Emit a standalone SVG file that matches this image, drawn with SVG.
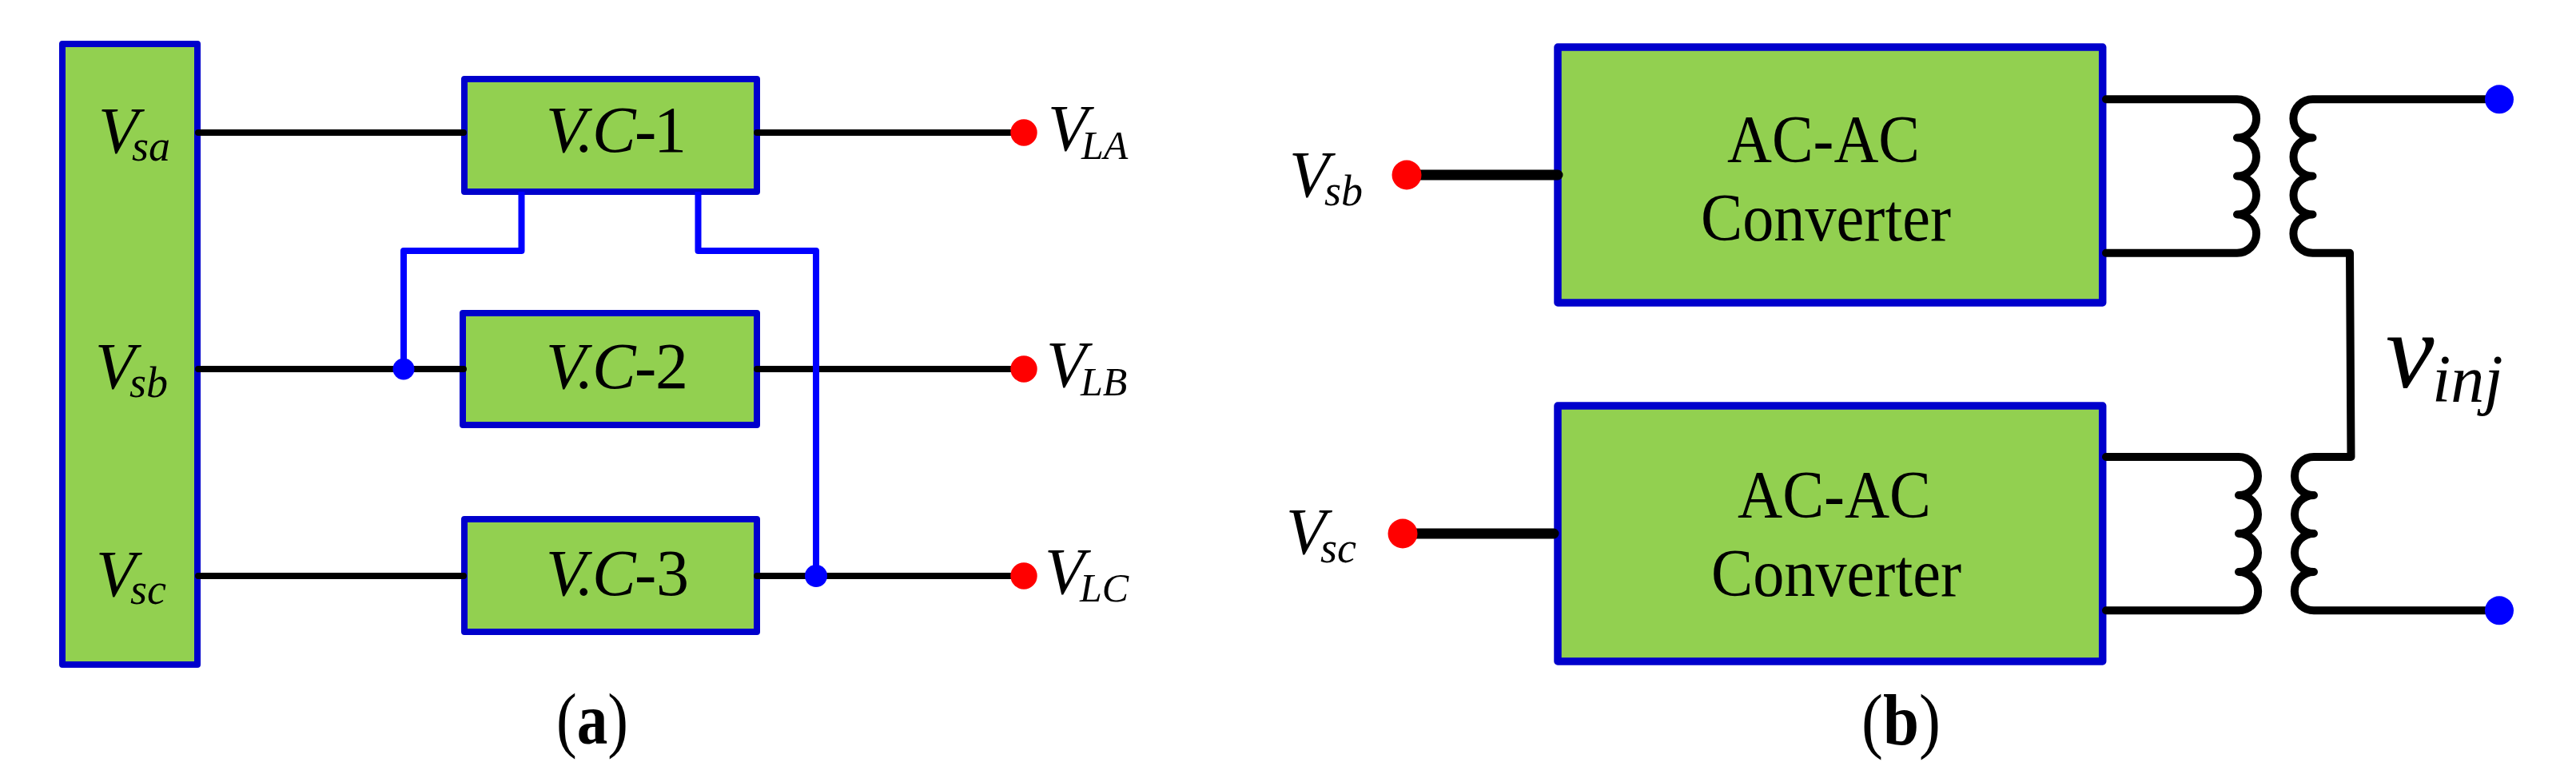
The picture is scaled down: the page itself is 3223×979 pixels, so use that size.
<svg xmlns="http://www.w3.org/2000/svg" width="3223" height="979" viewBox="0 0 3223 979">
<style>
text{font-family:"Liberation Serif","Times New Roman",serif;fill:#000}
.i{font-style:italic}
.main{font-size:82px}
.tall{font-size:84px}
.sub{font-size:54px;font-style:italic}
.subl{font-size:50px;font-style:italic}
.cap{font-size:92px}
.b{font-weight:bold}
.box{fill:#92D050;stroke:#0000CC;stroke-linejoin:round}
.a{stroke-width:8}
.c{stroke-width:9.5}
.k{fill:none;stroke:#000;stroke-linecap:round;stroke-linejoin:round}
.k8{stroke-width:8}
.k10{stroke-width:10}
.k13{stroke-width:13}
.bl{fill:none;stroke:#0000FF;stroke-width:8;stroke-linejoin:round}
.red{fill:#FF0000}
.dot{fill:#0000FF}
</style>
<rect width="3223" height="979" fill="#fff"/>
<g id="source-block">
<rect class="box a" x="78" y="55" width="169" height="777"/>
<text class="main i" x="123" y="191">V</text><text class="sub" x="165" y="201">sa</text>
<text class="main i" x="119" y="486">V</text><text class="sub" x="162" y="497">sb</text>
<text class="main i" x="120" y="746">V</text><text class="sub" x="163" y="756">sc</text>
</g>
<g id="vc1">
<rect class="box a" x="581" y="99" width="366" height="141"/>
<text class="main" y="190"><tspan class="i" x="683">V</tspan><tspan class="i" x="722">.</tspan><tspan class="i" x="741">C</tspan><tspan x="794">-</tspan><tspan x="818">1</tspan></text>
</g>
<g id="vc2">
<rect class="box a" x="579" y="392" width="368" height="140"/>
<text class="main" y="486"><tspan class="i" x="683">V</tspan><tspan class="i" x="722">.</tspan><tspan class="i" x="741">C</tspan><tspan x="794">-</tspan><tspan x="820">2</tspan></text>
</g>
<g id="vc3">
<rect class="box a" x="581" y="650" width="366" height="141"/>
<text class="main" y="745"><tspan class="i" x="683">V</tspan><tspan class="i" x="722">.</tspan><tspan class="i" x="741">C</tspan><tspan x="794">-</tspan><tspan x="821">3</tspan></text>
</g>
<g id="converter-top">
<rect class="box c" x="1949" y="59" width="681.7" height="320"/>
<text class="tall" x="2161" y="203" textLength="241" lengthAdjust="spacingAndGlyphs">AC-AC</text>
<text class="tall" x="2128" y="301" textLength="313" lengthAdjust="spacingAndGlyphs">Converter</text>
</g>
<g id="converter-bottom">
<rect class="box c" x="1949" y="508" width="681.7" height="320"/>
<text class="tall" x="2174" y="648" textLength="242" lengthAdjust="spacingAndGlyphs">AC-AC</text>
<text class="tall" x="2141" y="746" textLength="313" lengthAdjust="spacingAndGlyphs">Converter</text>
</g>
<g id="connectors">
<path class="k k8" d="M248 166H580M947 166H1280M248 462H580M947 462H1280M248 721H580M947 721H1280"/>
<path class="bl" d="M652.500 240V314H505V462M873.500 240V314H1021V721"/>
<path class="k k13" d="M1760 219H1949M1755 668H1944"/>
<path class="k k10" d="M2635 124.300H2799A24 24 0 0 1 2799 172.500A24 24 0 0 1 2799 220.500A24 24 0 0 1 2799 268.500A24 24 0 0 1 2799 316.700H2635"/>
<path class="k k10" d="M3127 124.300H2893.500A24 24 0 0 0 2893.500 172.500A24 24 0 0 0 2893.500 220.500A24 24 0 0 0 2893.500 268.500A24 24 0 0 0 2893.500 316.700H2940L2941.500 572H2895A24 24 0 0 0 2895 620A24 24 0 0 0 2895 668A24 24 0 0 0 2895 716A24 24 0 0 0 2895 764.300H3127"/>
<path class="k k10" d="M2635 572H2801A24 24 0 0 1 2801 620A24 24 0 0 1 2801 668A24 24 0 0 1 2801 716A24 24 0 0 1 2801 764.300H2635"/>
<circle class="dot" cx="505" cy="462" r="13.500"/>
<circle class="dot" cx="1021" cy="721" r="14"/>
</g>
<g id="terminal-la"><circle class="red" cx="1281" cy="166" r="16.700"/><text class="main i" x="1311" y="188">V</text><text class="subl" x="1353" y="199">LA</text></g>
<g id="terminal-lb"><circle class="red" cx="1281" cy="462" r="16.700"/><text class="main i" x="1309" y="484">V</text><text class="subl" x="1352" y="495">LB</text></g>
<g id="terminal-lc"><circle class="red" cx="1281" cy="721" r="16.700"/><text class="main i" x="1307" y="743">V</text><text class="subl" x="1351" y="753">LC</text></g>
<g id="terminal-sb"><circle class="red" cx="1760" cy="219" r="18.500"/><text class="main i" x="1613" y="246">V</text><text class="sub" x="1657" y="257">sb</text></g>
<g id="terminal-sc"><circle class="red" cx="1755" cy="668" r="18.500"/><text class="main i" x="1609" y="693">V</text><text class="sub" x="1652" y="704">sc</text></g>
<g id="terminal-top"><circle class="dot" cx="3127" cy="124.300" r="18"/></g>
<g id="terminal-bottom"><circle class="dot" cx="3127" cy="764.300" r="18"/></g>
<g id="label-vinj"><text class="i" x="2985" y="485" font-size="136">v</text><text class="i" x="3043" y="503" font-size="84">inj</text></g>
<g id="caption-a"><text class="cap" x="696" y="931" textLength="90" lengthAdjust="spacingAndGlyphs">(<tspan class="b">a</tspan>)</text></g>
<g id="caption-b"><text class="cap" x="2329" y="932" textLength="99" lengthAdjust="spacingAndGlyphs">(<tspan class="b">b</tspan>)</text></g>
</svg>
